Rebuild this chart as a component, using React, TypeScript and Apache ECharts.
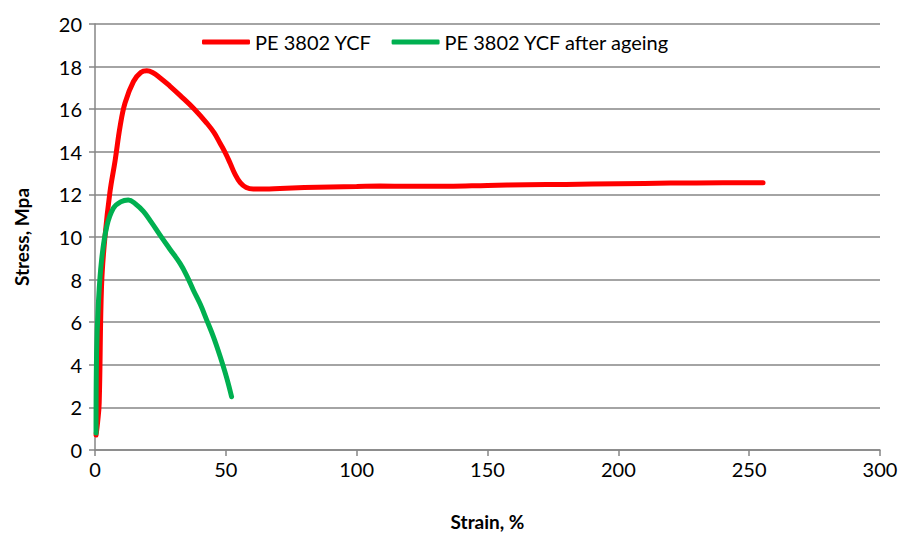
import React, { useEffect, useRef } from "react";
import * as echarts from "echarts";

const seriesNames = ["PE 3802 YCF", "PE 3802 YCF after ageing"];

const redStrain = [0.4, 1.0, 1.6, 2.5, 3.8, 5.7, 7.7, 9.6, 11.5, 14.7, 17.5, 19.8, 22.0, 24.8, 28.5, 32.5, 38.0, 42.7, 45.5, 47.8, 49.8, 51.7, 53.5, 55.5, 57.8, 60.5, 65.0, 70.7, 80.0, 90.0, 100.0, 108.9, 120.0, 135.0, 150.0, 165.0, 180.0, 200.0, 220.0, 240.0, 255.3];
const redStress = [0.7, 1.3, 2.2, 7.7, 10.0, 12.1, 13.6, 15.2, 16.3, 17.3, 17.72, 17.8, 17.72, 17.48, 17.1, 16.65, 16.0, 15.35, 14.9, 14.4, 13.95, 13.45, 12.95, 12.55, 12.32, 12.25, 12.25, 12.28, 12.32, 12.35, 12.37, 12.39, 12.38, 12.38, 12.42, 12.45, 12.47, 12.5, 12.53, 12.55, 12.55];

const greenStrain = [0.4, 0.6, 1.3, 2.5, 4.5, 7.0, 9.8, 12.7, 15.5, 18.5, 21.5, 24.8, 28.5, 32.5, 35.0, 37.6, 40.2, 42.7, 45.3, 47.8, 50.3, 52.2];
const greenStress = [0.8, 4.5, 6.9, 8.9, 10.5, 11.35, 11.65, 11.74, 11.55, 11.2, 10.7, 10.1, 9.45, 8.76, 8.2, 7.5, 6.85, 6.1, 5.3, 4.4, 3.4, 2.5];

const xTicks = { min: 0, max: 300, interval: 50 };
const yTicks = { min: 0, max: 20, interval: 2 };

const FONT = "Lato, 'Open Sans', sans-serif";

export default function App() {
  const ref = useRef<HTMLDivElement>(null);
  useEffect(() => {
    if (!ref.current) return;
    const chart = echarts.init(ref.current, undefined, { renderer: "svg" });
    const red = redStrain.map((x, i) => [x, redStress[i]]);
    const green = greenStrain.map((x, i) => [x, greenStress[i]]);
    chart.setOption({
      animation: false,
      backgroundColor: "#ffffff",
      textStyle: { fontFamily: FONT },
      grid: { left: 95, right: 23, top: 24, bottom: 87, containLabel: false },
      legend: {
        top: 27,
        left: 197,
        icon: "roundRect",
        itemWidth: 48,
        itemHeight: 5,
        itemGap: 20,
        textStyle: { fontSize: 20, color: "#000", fontFamily: FONT },
        data: seriesNames,
      },
      xAxis: {
        type: "value",
        ...xTicks,
        name: "Strain, %",
        nameLocation: "middle",
        nameGap: 62,
        nameTextStyle: { fontSize: 19, fontWeight: "bold", color: "#000", fontFamily: FONT },
        axisLine: { show: true, lineStyle: { color: "#868686", width: 1.5 } },
        axisTick: { show: true, length: 6, inside: false, lineStyle: { color: "#868686", width: 1.5 } },
        axisLabel: { fontSize: 20, color: "#000", margin: 9, fontFamily: FONT },
        splitLine: { show: false },
      },
      yAxis: {
        type: "value",
        ...yTicks,
        name: "Stress, Mpa",
        nameLocation: "middle",
        nameGap: 64,
        nameTextStyle: { fontSize: 19, fontWeight: "bold", color: "#000", fontFamily: FONT },
        axisLine: { show: true, lineStyle: { color: "#868686", width: 1.5 } },
        axisTick: { show: true, length: 6, lineStyle: { color: "#868686", width: 1.5 } },
        axisLabel: { fontSize: 20, color: "#000", margin: 13, fontFamily: FONT },
        splitLine: { show: true, lineStyle: { color: "#868686", width: 1.5 } },
      },
      series: [
        {
          name: seriesNames[0],
          type: "line",
          data: red,
          smooth: 0.4,
          symbol: "none",
          lineStyle: { color: "#ff0000", width: 5, cap: "round" },
          itemStyle: { color: "#ff0000" },
          z: 3,
        },
        {
          name: seriesNames[1],
          type: "line",
          data: green,
          smooth: 0.4,
          symbol: "none",
          lineStyle: { color: "#00b050", width: 5, cap: "round" },
          itemStyle: { color: "#00b050" },
          z: 4,
        },
      ],
    });
    return () => chart.dispose();
  }, []);
  return (
    <div
      ref={ref}
      style={{ position: "fixed", left: 0, top: 0, width: 903, height: 537, overflow: "hidden" }}
    />
  );
}
